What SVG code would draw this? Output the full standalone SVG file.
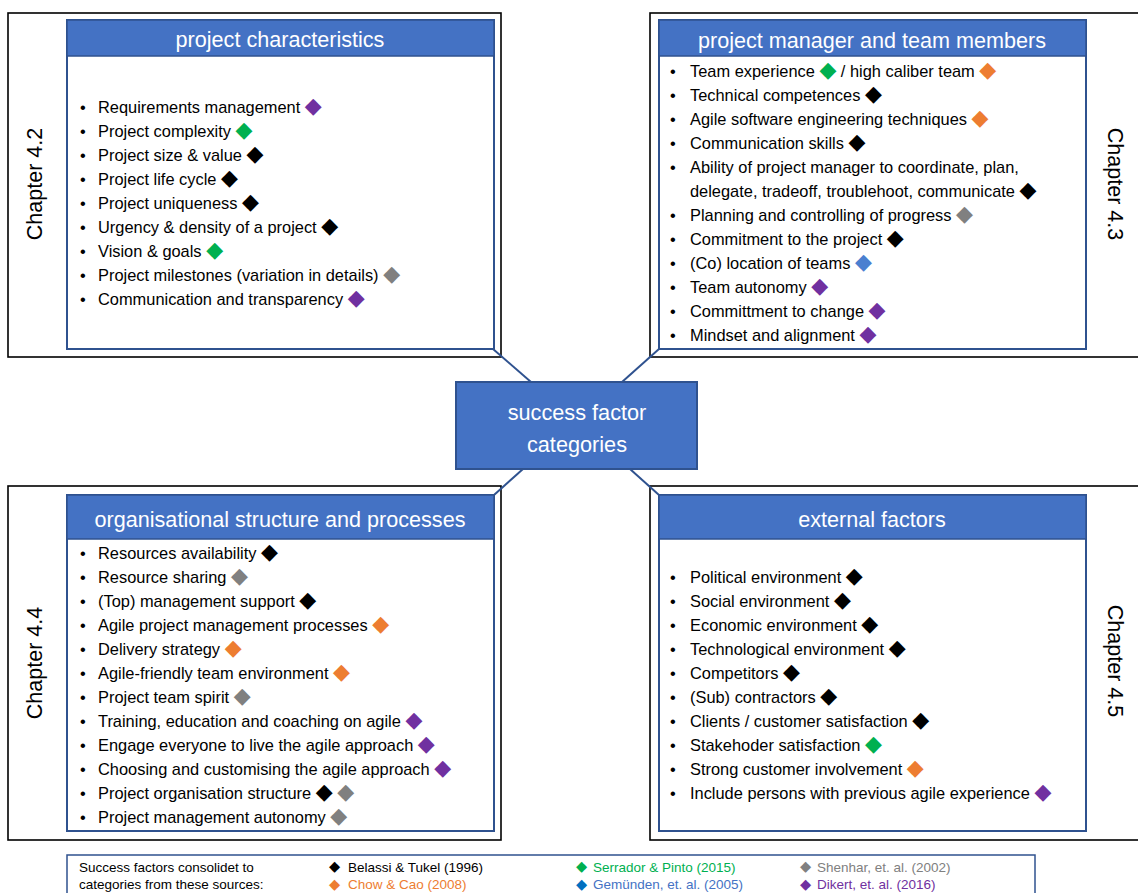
<svg xmlns="http://www.w3.org/2000/svg" width="1138" height="893" viewBox="0 0 1138 893">
<style>
.bg{fill:#fff}
.outer{fill:#fff;stroke:#000;stroke-width:1.6}
.inner{fill:#fff;stroke:#2F528F;stroke-width:2}
.hdr{fill:#4472C4;stroke:#2F528F;stroke-width:1.5}
.htxt{font-family:"Liberation Sans",Arial,sans-serif;font-size:21.6px;fill:#fff;text-anchor:middle}
.it{font-family:"Liberation Sans",Arial,sans-serif;font-size:16.4px;fill:#000}
.ch{font-family:"Liberation Sans",Arial,sans-serif;font-size:21.5px;fill:#000;text-anchor:middle}
.lg{font-family:"Liberation Sans",Arial,sans-serif;font-size:13.5px;fill:#000}
.d{font-family:"DejaVu Sans",sans-serif;font-size:22px}
.ld{font-family:"DejaVu Sans",sans-serif;font-size:14.5px}
.pu{fill:#7030A0}.gr{fill:#00B050}.bk{fill:#000}.gy{fill:#808080}.or{fill:#ED7D31}.bl{fill:#4A80D0}.db{fill:#0070C0}.tb{fill:#4472C4}
.con{stroke:#2F528F;stroke-width:2;fill:none}
.center{fill:#4472C4;stroke:#2F528F;stroke-width:2}
.ctxt{font-family:"Liberation Sans",Arial,sans-serif;font-size:21.7px;fill:#fff;text-anchor:middle}
.legbox{fill:#fff;stroke:#2F528F;stroke-width:1.5}
</style>
<rect class="bg" x="0" y="0" width="1138" height="893"/>

<g id="node-project-characteristics">
<rect class="outer" x="8" y="13" width="493" height="344"/>
<rect class="inner" x="67" y="20" width="427" height="329"/>
<rect class="hdr" x="67" y="20" width="427" height="36"/>
<text class="htxt" x="280" y="47">project characteristics</text>
<text class="ch" transform="translate(42,184) rotate(-90)">Chapter 4.2</text>
<g class="it" transform="translate(0,-1)">
<text x="80" y="114">•</text><text x="98" y="114">Requirements management <tspan class="d pu">◆</tspan></text>
<text x="80" y="138">•</text><text x="98" y="138">Project complexity <tspan class="d gr">◆</tspan></text>
<text x="80" y="162">•</text><text x="98" y="162">Project size &amp; value <tspan class="d bk">◆</tspan></text>
<text x="80" y="186">•</text><text x="98" y="186">Project life cycle <tspan class="d bk">◆</tspan></text>
<text x="80" y="210">•</text><text x="98" y="210">Project uniqueness <tspan class="d bk">◆</tspan></text>
<text x="80" y="234">•</text><text x="98" y="234">Urgency &amp; density of a project <tspan class="d bk">◆</tspan></text>
<text x="80" y="258">•</text><text x="98" y="258">Vision &amp; goals <tspan class="d gr">◆</tspan></text>
<text x="80" y="282">•</text><text x="98" y="282">Project milestones (variation in details) <tspan class="d gy">◆</tspan></text>
<text x="80" y="306">•</text><text x="98" y="306">Communication and transparency <tspan class="d pu">◆</tspan></text>
</g>
</g>

<g id="node-project-manager-team">
<rect class="outer" x="650" y="13" width="495" height="344"/>
<rect class="inner" x="659" y="20" width="427" height="329"/>
<rect class="hdr" x="659" y="20" width="427" height="36"/>
<text class="htxt" x="872" y="48">project manager and team members</text>
<text class="ch" transform="translate(1108,184) rotate(90)">Chapter 4.3</text>
<g class="it" transform="translate(0,-1)">
<text x="670" y="78">•</text><text x="690" y="78">Team experience <tspan class="d gr">◆</tspan> / high caliber team <tspan class="d or">◆</tspan></text>
<text x="670" y="102">•</text><text x="690" y="102">Technical competences <tspan class="d bk">◆</tspan></text>
<text x="670" y="126">•</text><text x="690" y="126">Agile software engineering techniques <tspan class="d or">◆</tspan></text>
<text x="670" y="150">•</text><text x="690" y="150">Communication skills <tspan class="d bk">◆</tspan></text>
<text x="670" y="174">•</text><text x="690" y="174">Ability of project manager to coordinate, plan,</text>
<text x="690" y="198">delegate, tradeoff, troublehoot, communicate <tspan class="d bk">◆</tspan></text>
<text x="670" y="222">•</text><text x="690" y="222">Planning and controlling of progress <tspan class="d gy">◆</tspan></text>
<text x="670" y="246">•</text><text x="690" y="246">Commitment to the project <tspan class="d bk">◆</tspan></text>
<text x="670" y="270">•</text><text x="690" y="270">(Co) location of teams <tspan class="d bl">◆</tspan></text>
<text x="670" y="294">•</text><text x="690" y="294">Team autonomy <tspan class="d pu">◆</tspan></text>
<text x="670" y="318">•</text><text x="690" y="318">Committment to change <tspan class="d pu">◆</tspan></text>
<text x="670" y="342">•</text><text x="690" y="342">Mindset and alignment <tspan class="d pu">◆</tspan></text>
</g>
</g>

<g id="node-organisational-structure">
<rect class="outer" x="8" y="486" width="493" height="354"/>
<rect class="inner" x="67" y="495" width="427" height="336"/>
<rect class="hdr" x="67" y="495" width="427" height="44"/>
<text class="htxt" x="280" y="527">organisational structure and processes</text>
<text class="ch" transform="translate(42,663) rotate(-90)">Chapter 4.4</text>
<g class="it" transform="translate(0,-1)">
<text x="80" y="560">•</text><text x="98" y="560">Resources availability <tspan class="d bk">◆</tspan></text>
<text x="80" y="584">•</text><text x="98" y="584">Resource sharing <tspan class="d gy">◆</tspan></text>
<text x="80" y="608">•</text><text x="98" y="608">(Top) management support <tspan class="d bk">◆</tspan></text>
<text x="80" y="632">•</text><text x="98" y="632">Agile project management processes <tspan class="d or">◆</tspan></text>
<text x="80" y="656">•</text><text x="98" y="656">Delivery strategy <tspan class="d or">◆</tspan></text>
<text x="80" y="680">•</text><text x="98" y="680">Agile-friendly team environment <tspan class="d or">◆</tspan></text>
<text x="80" y="704">•</text><text x="98" y="704">Project team spirit <tspan class="d gy">◆</tspan></text>
<text x="80" y="728">•</text><text x="98" y="728">Training, education and coaching on agile <tspan class="d pu">◆</tspan></text>
<text x="80" y="752">•</text><text x="98" y="752">Engage everyone to live the agile approach <tspan class="d pu">◆</tspan></text>
<text x="80" y="776">•</text><text x="98" y="776">Choosing and customising the agile approach <tspan class="d pu">◆</tspan></text>
<text x="80" y="800">•</text><text x="98" y="800">Project organisation structure <tspan class="d bk">◆</tspan> <tspan class="d gy">◆</tspan></text>
<text x="80" y="824">•</text><text x="98" y="824">Project management autonomy <tspan class="d gy">◆</tspan></text>
</g>
</g>

<g id="node-external-factors">
<rect class="outer" x="650" y="486" width="495" height="354"/>
<rect class="inner" x="659" y="495" width="427" height="336"/>
<rect class="hdr" x="659" y="495" width="427" height="44"/>
<text class="htxt" x="872" y="527">external factors</text>
<text class="ch" transform="translate(1108,661) rotate(90)">Chapter 4.5</text>
<g class="it" transform="translate(0,-1)">
<text x="670" y="584">•</text><text x="690" y="584">Political environment <tspan class="d bk">◆</tspan></text>
<text x="670" y="608">•</text><text x="690" y="608">Social environment <tspan class="d bk">◆</tspan></text>
<text x="670" y="632">•</text><text x="690" y="632">Economic environment <tspan class="d bk">◆</tspan></text>
<text x="670" y="656">•</text><text x="690" y="656">Technological environment <tspan class="d bk">◆</tspan></text>
<text x="670" y="680">•</text><text x="690" y="680">Competitors <tspan class="d bk">◆</tspan></text>
<text x="670" y="704">•</text><text x="690" y="704">(Sub) contractors <tspan class="d bk">◆</tspan></text>
<text x="670" y="728">•</text><text x="690" y="728">Clients / customer satisfaction <tspan class="d bk">◆</tspan></text>
<text x="670" y="752">•</text><text x="690" y="752">Stakehoder satisfaction <tspan class="d gr">◆</tspan></text>
<text x="670" y="776">•</text><text x="690" y="776">Strong customer involvement <tspan class="d or">◆</tspan></text>
<text x="670" y="800">•</text><text x="690" y="800">Include persons with previous agile experience <tspan class="d pu">◆</tspan></text>
</g>
</g>

<g id="connectors">
<line class="con" x1="493" y1="349" x2="531" y2="382"/>
<line class="con" x1="659" y1="349" x2="622" y2="382"/>
<line class="con" x1="494" y1="495" x2="523" y2="469"/>
<line class="con" x1="659" y1="495" x2="630" y2="469"/>
</g>

<g id="node-success-factor-categories">
<rect class="center" x="456" y="382" width="241" height="87"/>
<text class="ctxt" x="577" y="420">success factor</text>
<text class="ctxt" x="577" y="452">categories</text>
</g>

<g id="legend">
<rect class="legbox" x="67" y="855" width="968" height="60"/>
<text class="lg" x="79" y="872">Success factors consolidet to</text>
<text class="lg" x="79" y="889">categories from these sources:</text>
<text class="ld bk" x="329" y="871">◆</text><text class="lg" x="348" y="872">Belassi &amp; Tukel (1996)</text>
<text class="ld or" x="329" y="889">◆</text><text class="lg or" x="348" y="889">Chow &amp; Cao (2008)</text>
<text class="ld gr" x="576" y="871">◆</text><text class="lg gr" x="593" y="872">Serrador &amp; Pinto (2015)</text>
<text class="ld db" x="576" y="889">◆</text><text class="lg tb" x="593" y="889">Gemünden, et. al. (2005)</text>
<text class="ld gy" x="800" y="871">◆</text><text class="lg gy" x="817" y="872">Shenhar, et. al. (2002)</text>
<text class="ld pu" x="800" y="889">◆</text><text class="lg pu" x="817" y="889">Dikert, et. al. (2016)</text>
</g>
</svg>
